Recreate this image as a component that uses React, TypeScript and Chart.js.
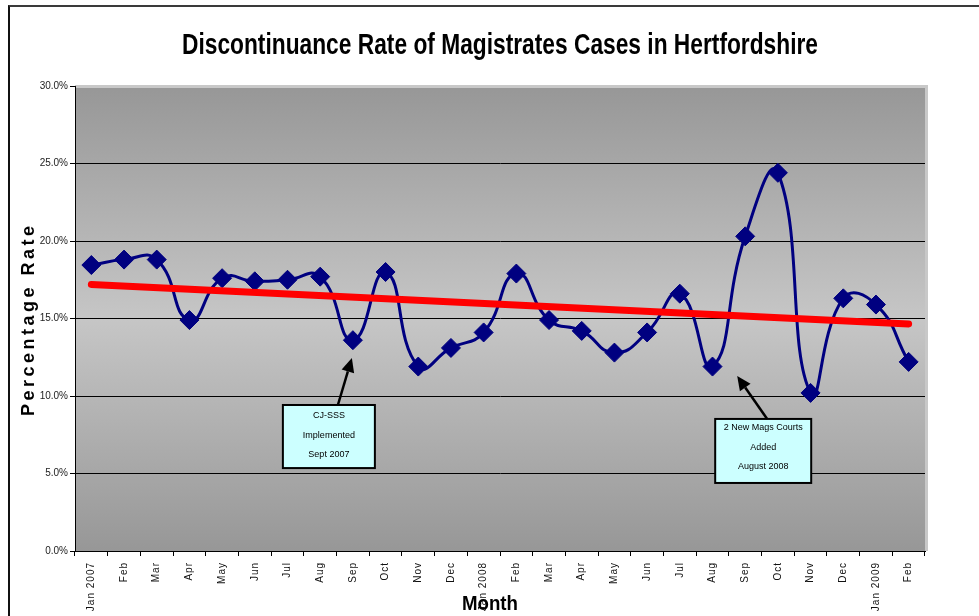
import { useEffect, useRef } from "react";
import { Chart, registerables } from "chart.js";
Chart.register(...registerables);

const categories = ["Jan 2007", "Feb", "Mar", "Apr", "May", "Jun", "Jul", "Aug", "Sep", "Oct", "Nov", "Dec", "Jan 2008", "Feb", "Mar", "Apr", "May", "Jun", "Jul", "Aug", "Sep", "Oct", "Nov", "Dec", "Jan 2009", "Feb"];
const rates = [18.45, 18.8, 18.8, 14.9, 17.6, 17.4, 17.5, 17.7, 13.6, 18.0, 11.9, 13.1, 14.1, 17.9, 14.9, 14.2, 12.8, 14.1, 16.6, 11.9, 20.3, 24.4, 10.2, 16.3, 15.9, 12.2];
const trendStart = 17.2;
const trendEnd = 14.65;
const yMin = 0;
const yMax = 30;
const yStep = 5;
const chartTitle = "Discontinuance Rate of Magistrates Cases in Hertfordshire";
const xTitle = "Month";
const yTitle = "Percentage Rate";
const note1Lines = ["CJ-SSS", "Implemented", "Sept 2007"];
const note1Index = 8;
const note2Lines = ["2 New Mags Courts", "Added", "August 2008"];
const note2Index = 20;

const trendData = categories.map((_, i) => (i === 0 ? trendStart : i === categories.length - 1 ? trendEnd : null));

const FONT = "'Liberation Sans', Arial, sans-serif";

function drawArrow(ctx: CanvasRenderingContext2D, x1: number, y1: number, x2: number, y2: number) {
  const ang = Math.atan2(y2 - y1, x2 - x1);
  const hl = 14, hw = 6.5;
  const bx = x2 - Math.cos(ang) * hl, by = y2 - Math.sin(ang) * hl;
  ctx.save();
  ctx.strokeStyle = "#000";
  ctx.fillStyle = "#000";
  ctx.lineWidth = 2.5;
  ctx.beginPath();
  ctx.moveTo(x1, y1);
  ctx.lineTo(bx, by);
  ctx.stroke();
  ctx.beginPath();
  ctx.moveTo(x2, y2);
  ctx.lineTo(bx - Math.sin(ang) * hw, by + Math.cos(ang) * hw);
  ctx.lineTo(bx + Math.sin(ang) * hw, by - Math.cos(ang) * hw);
  ctx.closePath();
  ctx.fill();
  ctx.restore();
}

function drawNote(ctx: CanvasRenderingContext2D, cx: number, top: number, bottom: number, w: number, lines: string[], firstOff: number) {
  ctx.save();
  ctx.fillStyle = "#ccffff";
  ctx.fillRect(cx - w / 2, top, w, bottom - top);
  ctx.strokeStyle = "#000";
  ctx.lineWidth = 2;
  ctx.strokeRect(cx - w / 2, top, w, bottom - top);
  ctx.fillStyle = "#000";
  ctx.font = `9px ${FONT}`;
  ctx.textAlign = "center";
  ctx.textBaseline = "middle";
  lines.forEach((l, k) => ctx.fillText(l, cx, top + firstOff + k * 19.5));
  ctx.restore();
}

const deco = {
  id: "deco",
  beforeDraw(chart: any) {
    const { ctx, chartArea: a } = chart;
    ctx.save();
    const g = ctx.createLinearGradient(0, a.top, 0, a.bottom);
    g.addColorStop(0, "#979797");
    g.addColorStop(0.5, "#c6c6c6");
    g.addColorStop(1, "#979797");
    ctx.fillStyle = g;
    ctx.fillRect(a.left, a.top, a.right - a.left, a.bottom - a.top);
    ctx.strokeStyle = "#c8c8c8";
    ctx.lineWidth = 3;
    ctx.beginPath();
    ctx.moveTo(a.left, a.top + 0.5);
    ctx.lineTo(a.right + 1.5, a.top + 0.5);
    ctx.lineTo(a.right + 1.5, a.bottom);
    ctx.stroke();
    ctx.restore();
  },
  afterDraw(chart: any) {
    const { ctx } = chart;
    const xs = chart.scales.x, ys = chart.scales.y;
    ctx.save();
    ctx.fillStyle = "#000";
    ctx.font = `bold 29px ${FONT}`;
    ctx.textAlign = "center";
    ctx.textBaseline = "alphabetic";
    let w = ctx.measureText(chartTitle).width;
    ctx.save();
    ctx.translate(490, 47);
    ctx.scale(636 / w, 1);
    ctx.fillText(chartTitle, 0, 0);
    ctx.restore();
    ctx.font = `bold 20px ${FONT}`;
    w = ctx.measureText(xTitle).width;
    ctx.save();
    ctx.translate(480, 603);
    ctx.scale(56 / w, 1);
    ctx.fillText(xTitle, 0, 0);
    ctx.restore();
    ctx.save();
    ctx.font = `bold 18px ${FONT}`;
    (ctx as any).letterSpacing = "3.5px";
    ctx.textAlign = "center";
    ctx.textBaseline = "middle";
    ctx.translate(19, 314);
    ctx.rotate(-Math.PI / 2);
    ctx.fillText(yTitle, 1.75, 0);
    ctx.restore();
    ctx.restore();

    const p1 = xs.getPixelForValue(note1Index);
    drawNote(ctx, p1 - 24, ys.getPixelForValue(9.42), ys.getPixelForValue(5.35), 92, note1Lines, 11);
    drawArrow(ctx, p1 - 15, ys.getPixelForValue(9.42), p1 - 1, ys.getPixelForValue(12.45));
    const p2 = xs.getPixelForValue(note2Index);
    drawNote(ctx, p2 + 18, ys.getPixelForValue(8.52), ys.getPixelForValue(4.39), 96, note2Lines, 9);
    drawArrow(ctx, p2 + 22, ys.getPixelForValue(8.52), p2 - 8, ys.getPixelForValue(11.29));
  },
};

export default function App() {
  const ref = useRef<HTMLCanvasElement>(null);
  useEffect(() => {
    const chart: any = new Chart(ref.current!, {
      type: "line",
      data: {
        labels: categories,
        datasets: [
          {
            label: "Trend",
            data: trendData,
            borderColor: "#ff0000",
            borderWidth: 7,
            borderCapStyle: "round",
            pointRadius: 0,
            spanGaps: true,
            tension: 0,
            order: 0,
          },
          {
            label: "Rate",
            data: rates,
            borderColor: "#000080",
            backgroundColor: "#000080",
            borderWidth: 3,
            tension: 0.5,
            pointStyle: "rectRot",
            pointRadius: 9.5,
            pointBorderWidth: 1,
            pointBackgroundColor: "#000080",
            pointBorderColor: "#000080",
            order: 1,
          },
        ],
      },
      options: {
        responsive: false,
        animation: false,
        events: [],
        layout: { padding: { top: 79, right: 85, bottom: 0, left: 0 }, autoPadding: false },
        plugins: { legend: { display: false }, title: { display: false }, tooltip: { enabled: false } },
        scales: {
          x: {
            type: "category",
            offset: true,
            afterFit: (s: any) => { s.height = 96; },
            grid: { display: true, offset: true, drawOnChartArea: false, drawTicks: true, tickLength: 5, color: "#000", lineWidth: 1 },
            border: { display: true, color: "#000", width: 1 },
            ticks: {
              autoSkip: false,
              maxRotation: 90,
              minRotation: 90,
              padding: 6,
              color: "#111",
              font: { family: FONT, size: 10 },
            },
          },
          y: {
            min: yMin,
            max: yMax,
            afterFit: (s: any) => { s.width = 65; },
            grid: {
              color: (c: any) => (c.tick && c.tick.value === yMax ? "rgba(0,0,0,0)" : "#000"),
              tickColor: "#000",
              tickLength: 5,
              lineWidth: 1,
            },
            border: { display: true, color: "#000", width: 1 },
            ticks: {
              stepSize: yStep,
              padding: 2,
              color: "#222",
              font: { family: FONT, size: 10 },
              callback: (v: any) => Number(v).toFixed(1) + "%",
            },
          },
        },
      },
      plugins: [deco],
    } as any);
    const xs = chart.scales.x;
    const orig = xs.drawLabels.bind(xs);
    xs.drawLabels = (area: any) => {
      const ctx = chart.ctx;
      ctx.save();
      ctx.letterSpacing = "1px";
      orig(area);
      ctx.restore();
    };
    chart.draw();
    return () => chart.destroy();
  }, []);
  return (
    <div style={{ position: "fixed", left: 8, top: 5, width: 971, height: 611, overflow: "hidden", borderLeft: "2px solid #111", borderTop: "2px solid #3a3a3a", boxSizing: "border-box", background: "#fff" }}>
      <canvas ref={ref} width={1000} height={640} style={{ display: "block" }} />
    </div>
  );
}
